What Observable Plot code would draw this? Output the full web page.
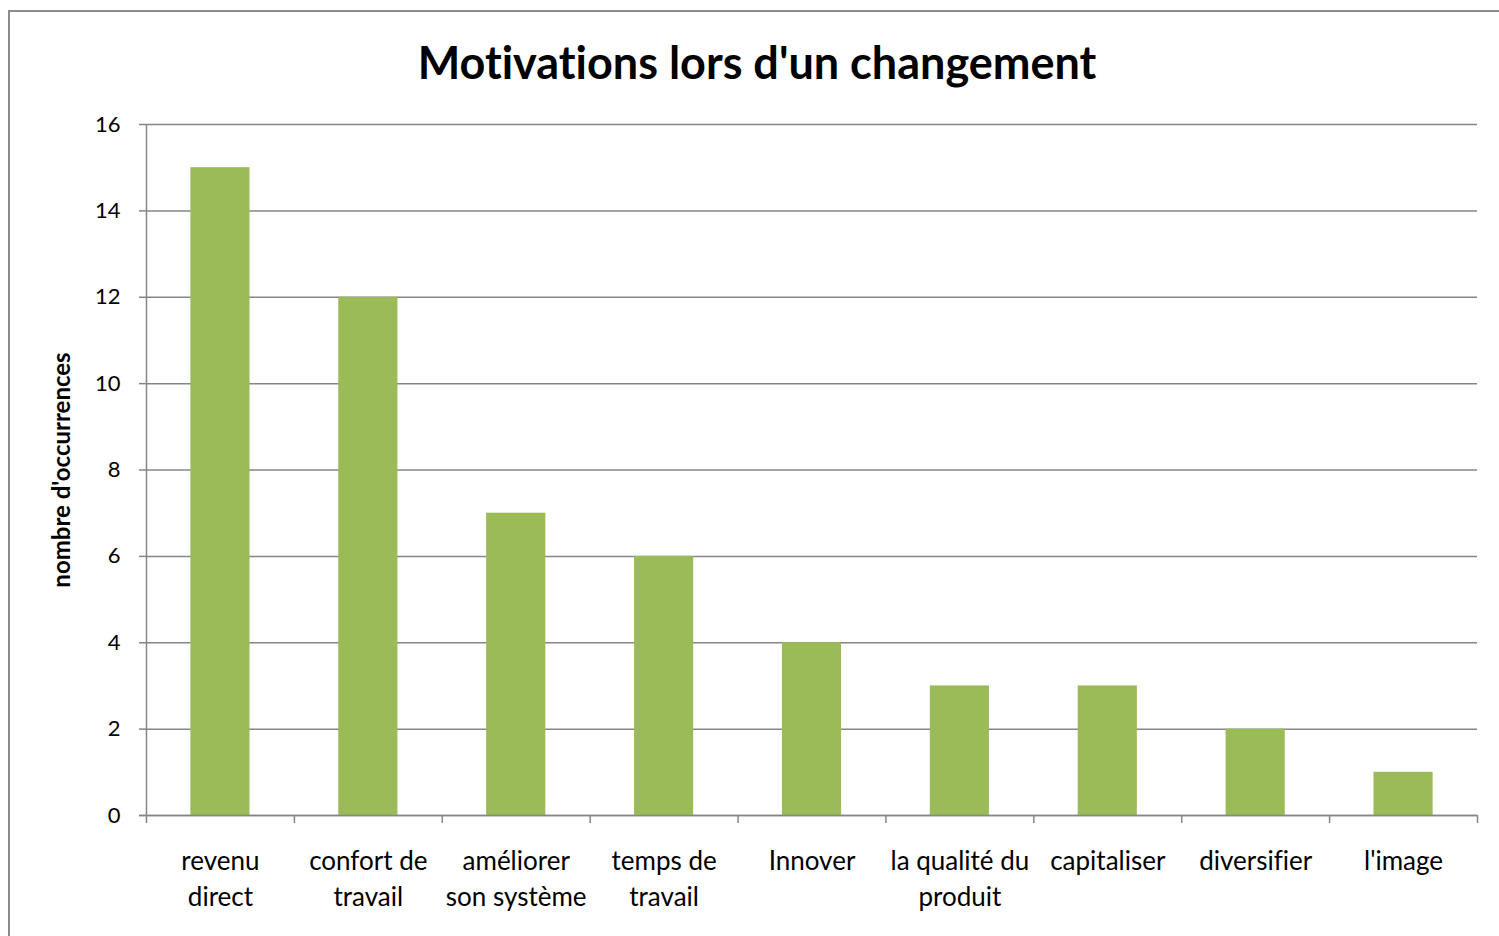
<!DOCTYPE html>
<html>
<head>
<meta charset="utf-8">
<script src="https://cdn.jsdelivr.net/npm/d3@7"></script>
<script src="https://cdn.jsdelivr.net/npm/@observablehq/plot@0.6"></script>
<style>
  html, body { margin: 0; padding: 0; background: #fff; }
  #wrap { position: relative; width: 1499px; height: 936px; overflow: hidden; font-family: Lato, sans-serif; font-variant-ligatures: none; }
  #wrap svg, #wrap svg text { font-variant-ligatures: none; }
  #frame { position: absolute; left: 8px; top: 10px; width: 1500px; height: 940px; border: 2px solid #8c8c8c; box-sizing: border-box; }
  #title { position: absolute; left: 0; top: 35px; width: 1514px; text-align: center; font-weight: bold; font-size: 45px; line-height: 54px; color: #000; }
  #ylabel { position: absolute; left: 60px; top: 470px; transform: translate(-50%, -50%) rotate(-90deg); font-weight: bold; font-size: 24px; white-space: nowrap; }
  #chart { position: absolute; left: 0; top: 0; }
</style>
</head>
<body>
<div id="wrap">
  <div id="frame"></div>
  <div id="chart"></div>
  <div id="title">Motivations lors d'un changement</div>
  <div id="ylabel">nombre d'occurrences</div>
</div>
<script>
const categories = ["revenu\ndirect", "confort de\ntravail", "améliorer\nson système", "temps de\ntravail", "Innover", "la qualité du\nproduit", "capitaliser", "diversifier", "l'image"];
const values = [15, 12, 7, 6, 4, 3, 3, 2, 1];
const yTicks = [0, 2, 4, 6, 8, 10, 12, 14, 16];

const data = categories.map((c, i) => ({category: c, value: values[i]}));

const W = 1499, H = 936, mL = 146, mR = 22, mT = 124, mB = 121;
const bw = (W - mL - mR) / categories.length;
const grey = "#868686";

const chart = Plot.plot({
  width: W,
  height: H,
  marginLeft: mL,
  marginRight: mR,
  marginTop: mT,
  marginBottom: mB,
  style: {fontFamily: "Lato, sans-serif", background: "transparent"},
  x: {domain: categories, paddingInner: 0.6, paddingOuter: 0.3, align: 0.5, round: false, label: null},
  y: {domain: [0, 16], label: null},
  marks: [
    Plot.gridY(yTicks, {stroke: grey, strokeOpacity: 1, strokeWidth: 1.5}),
    Plot.barY(data, {x: "category", y: "value", fill: "#9BBB59"}),
    Plot.ruleY([0], {stroke: grey, strokeWidth: 1.5, insetLeft: -7}),
    Plot.ruleX([categories[0]], {x: d => d, dx: -bw / 2, y1: 0, y2: 16, stroke: grey, strokeWidth: 1.5}),
    Plot.ruleX(categories, {x: d => d, dx: -bw / 2, y1: 0, y2: 0, insetBottom: -8, stroke: grey, strokeWidth: 1.5}),
    Plot.ruleX([categories[categories.length - 1]], {x: d => d, dx: bw / 2, y1: 0, y2: 0, insetBottom: -8, stroke: grey, strokeWidth: 1.5}),
    Plot.axisY(yTicks, {tickSize: 7, stroke: grey, strokeWidth: 1.5, tickPadding: 19, fontSize: 22, fill: "#000"}),
    Plot.axisX({tickSize: 0, tickPadding: 29, fontSize: 26, fill: "#000", lineHeight: 1.38}),
  ]
});
document.getElementById("chart").appendChild(chart);
</script>
</body>
</html>
